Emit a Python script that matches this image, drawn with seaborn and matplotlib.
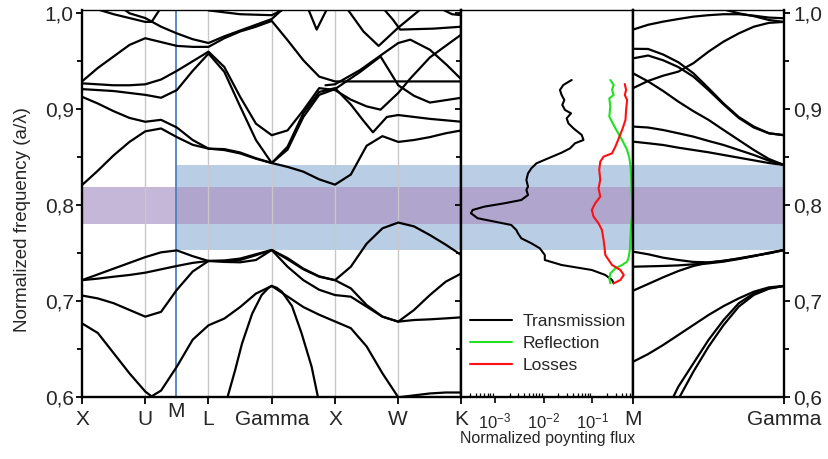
import matplotlib
matplotlib.use("Agg")
import matplotlib.pyplot as plt
import numpy as np
import pandas as pd
import seaborn as sns

# ---------------- data ----------------
PATH_POS = [0, 1, 2, 3, 4, 5, 6]
PATH_LABELS = ["X", "U", "L", "Gamma", "X", "W", "K"]
M_POS = 1.49
K_Q = [0.0, 0.25, 0.5, 0.75, 1.0, 1.25, 1.5, 1.75, 2.0, 2.25, 2.5, 2.75, 3.0,
       3.25, 3.5, 3.75, 4.0, 4.25, 4.5, 4.75, 5.0, 5.25, 5.5, 5.75, 6.0]
K_XG = [0.0, 0.25, 0.5, 0.75, 1.0, 1.25, 1.5, 1.75, 2.0, 2.25, 2.5, 2.75, 3.0]

# lower bands (X ... K)
band_d_k = [0.0, 0.25, 0.5, 0.75, 1.0, 1.1, 1.25, 1.5, 1.75, 2.0, 2.25, 2.5, 2.75, 3.0,
            3.25, 3.5, 3.75, 4.0, 4.25, 4.5, 4.75, 5.0, 5.25, 5.5, 5.75, 6.0]
band_d = [0.677, 0.667, 0.646, 0.625, 0.606, 0.601, 0.607, 0.632, 0.660, 0.675, 0.682, 0.694, 0.708, 0.716,
          0.705, 0.694, 0.686, 0.679, 0.672, 0.653, 0.625, 0.600, 0.602, 0.604, 0.605, 0.605]
band_a = [0.722, 0.728, 0.734, 0.740, 0.746, 0.751, 0.753, 0.747, 0.742, 0.742, 0.743, 0.748, 0.7534,
          0.745, 0.734, 0.726, 0.722, 0.736, 0.760, 0.776, 0.782, 0.778, 0.769, 0.759, 0.748]
band_b = [0.722, 0.7236, 0.7256, 0.7274, 0.7298, 0.7333, 0.7368, 0.740, 0.742, 0.741, 0.7406, 0.743, 0.7534,
          0.7437, 0.7333, 0.7256, 0.722, 0.7135, 0.6961, 0.684, 0.6788, 0.691, 0.7065, 0.7204, 0.7291]
band_c = [0.706, 0.703, 0.698, 0.691, 0.684, 0.689, 0.712, 0.731, 0.742, 0.7425, 0.7445, 0.749, 0.7534,
          0.736, 0.722, 0.712, 0.7065, 0.7048, 0.6944, 0.684, 0.6788, 0.6805, 0.6812, 0.6822, 0.6833]
band_e_k = [2.3, 2.42, 2.53, 2.69, 2.84, 2.95, 3.0, 3.08, 3.16, 3.32, 3.47, 3.63, 3.75]
band_e = [0.600, 0.628, 0.656, 0.687, 0.7065, 0.714, 0.716, 0.714, 0.710, 0.695, 0.667, 0.632, 0.594]

# upper bands
band_f = [0.821, 0.836, 0.852, 0.866, 0.877, 0.880, 0.871, 0.863, 0.859, 0.8585, 0.855, 0.849, 0.844,
          0.840, 0.835, 0.827, 0.8215, 0.832, 0.862, 0.872, 0.866, 0.868, 0.871, 0.875, 0.878]
band_g_k = K_XG + [3.25, 3.5, 3.75, 4.0, 4.25, 4.45, 4.6, 4.82, 5.0, 5.5, 6.0]
band_g = [0.913, 0.906, 0.898, 0.891, 0.887, 0.889, 0.881, 0.868, 0.859, 0.8575, 0.854, 0.8485, 0.844,
          0.861, 0.896, 0.918, 0.922, 0.905, 0.888, 0.876, 0.892, 0.894, 0.890, 0.887]
band_u3_k = K_XG + [3.25, 3.5, 3.75, 4.0, 4.4, 4.72, 5.0, 5.25, 5.5, 6.0]
band_u3 = [0.921, 0.920, 0.919, 0.917, 0.915, 0.912, 0.920, 0.940, 0.958, 0.939, 0.903, 0.868, 0.844,
           0.858, 0.892, 0.915, 0.921, 0.939, 0.955, 0.925, 0.914, 0.907, 0.912]
band_u4_k = K_XG + [3.25, 3.5, 3.75, 4.0, 4.25, 4.5, 4.72, 5.0, 5.19, 5.5, 5.77, 6.0]
band_u4 = [0.927, 0.926, 0.925, 0.925, 0.926, 0.931, 0.940, 0.950, 0.960, 0.944, 0.913, 0.885, 0.873,
           0.878, 0.899, 0.922, 0.920, 0.910, 0.903, 0.8996, 0.917, 0.932, 0.954, 0.967, 0.978]
band_u5_k = K_XG + [3.25, 3.5, 3.75, 4.0, 5.0, 6.0]
band_u5 = [0.929, 0.943, 0.955, 0.967, 0.974, 0.970, 0.966, 0.965, 0.965, 0.974, 0.981, 0.986, 0.992,
           0.972, 0.951, 0.934, 0.929, 0.929, 0.929]
band_hump_k = [3.85, 4.0, 4.4, 4.72, 5.0, 5.19, 5.5, 5.77, 6.0]
band_hump = [0.925, 0.926, 0.941, 0.956, 0.969, 0.9725, 0.962, 0.946, 0.931]
band_u6_k = [0.5, 0.75, 1.0, 1.25, 1.5, 1.75, 2.0, 2.25, 2.5, 2.75, 3.0, 3.2]
band_u6 = [1.012, 1.0, 0.995, 0.986, 0.979, 0.973, 0.969, 0.976, 0.982, 0.988, 0.994, 1.006]
band_u7_k = [0.2, 0.5, 0.75, 1.0, 1.1, 1.25]
band_u7 = [1.005, 0.999, 0.995, 0.991, 0.991, 1.006]
band_u8_k = [2.0, 2.5, 3.0, 3.25]
band_u8 = [1.003, 0.999, 0.998, 1.006]
band_u9_k = [3.58, 3.71, 3.87]
band_u9 = [1.004, 0.983, 1.004]
band_t1_k = [4.2, 4.45, 4.69, 5.0, 5.35]
band_t1 = [1.004, 0.981, 0.966, 0.985, 1.004]
band_t2_k = [4.79, 4.92, 5.03, 5.56, 6.0]
band_t2 = [1.003, 0.993, 0.983, 0.984, 0.986]
band_t3_k = [5.7, 5.85, 6.0]
band_t3 = [1.004, 0.999, 0.998]

# right panel  M -> Gamma
T_GRID = [0.0, 0.1, 0.2, 0.3, 0.4, 0.5, 0.6, 0.7, 0.8, 0.9, 1.0]
r_a = [0.7517, 0.749, 0.7454, 0.743, 0.741, 0.7406, 0.742, 0.7447, 0.7475, 0.750, 0.7534]
r_b = [0.736, 0.7364, 0.7368, 0.7374, 0.7385, 0.7395, 0.7413, 0.744, 0.747, 0.7506, 0.7534]
r_c = [0.711, 0.718, 0.725, 0.7315, 0.7368, 0.7402, 0.7423, 0.7444, 0.7472, 0.750, 0.7534]
r_d = [0.637, 0.645, 0.6545, 0.6649, 0.6753, 0.6857, 0.695, 0.703, 0.710, 0.7145, 0.716]
r_e_t = [0.25, 0.3, 0.4, 0.5, 0.6, 0.7, 0.8, 0.9, 1.0]
r_e = [0.595, 0.611, 0.6354, 0.6597, 0.6805, 0.6979, 0.7083, 0.7135, 0.716]
r_f_t = [0.29, 0.4, 0.5, 0.6, 0.7, 0.8, 0.9, 1.0]
r_f = [0.595, 0.6267, 0.6527, 0.6753, 0.6944, 0.7066, 0.7131, 0.716]
r_g = [0.983, 0.988, 0.9913, 0.994, 0.9965, 0.998, 0.999, 0.999, 0.9975, 0.9955, 0.9948]
r_h_t = [0.6, 0.7, 0.8, 0.9, 1.0]
r_h = [1.004, 1.0, 0.997, 0.993, 0.991]
r_i = [0.922, 0.9295, 0.935, 0.9392, 0.948, 0.960, 0.9705, 0.979, 0.986, 0.990, 0.991]
r_j = [0.963, 0.9628, 0.957, 0.949, 0.9375, 0.922, 0.906, 0.892, 0.882, 0.875, 0.873]
r_k = [0.953, 0.956, 0.951, 0.944, 0.934, 0.920, 0.905, 0.891, 0.881, 0.875, 0.873]
r_l = [0.9375, 0.929, 0.919, 0.908, 0.898, 0.889, 0.8784, 0.868, 0.8576, 0.8482, 0.842]
r_m = [0.882, 0.881, 0.8784, 0.875, 0.8715, 0.867, 0.8628, 0.8576, 0.8524, 0.8465, 0.842]
r_n = [0.8663, 0.8646, 0.8628, 0.860, 0.8576, 0.8552, 0.8524, 0.8496, 0.8468, 0.844, 0.842]

# middle panel: normalized poynting flux (log10) vs frequency
trans_f = [0.9305, 0.9253, 0.9201, 0.9149, 0.9097, 0.9045, 0.8993, 0.8958, 0.8906, 0.8854, 0.8802,
           0.8732, 0.8680, 0.8646, 0.8593, 0.8548, 0.8489, 0.8437, 0.8385, 0.8333, 0.8264, 0.8194,
           0.8160, 0.8107, 0.8055, 0.8021, 0.7986, 0.7951, 0.7917, 0.7865, 0.7830, 0.7795, 0.7743,
           0.7708, 0.7656, 0.7604, 0.7552, 0.7482, 0.7430, 0.7378, 0.7326, 0.7274, 0.7222, 0.7187]
trans_log = [-1.426, -1.598, -1.667, -1.633, -1.577, -1.619, -1.564, -1.439, -1.529, -1.494, -1.391,
             -1.219, -1.184, -1.357, -1.460, -1.633, -1.909, -2.150, -2.254, -2.323, -2.357, -2.323,
             -2.357, -2.323, -2.461, -2.806, -3.220, -3.461, -3.496, -3.358, -3.013, -2.668, -2.564,
             -2.530, -2.461, -2.254, -2.081, -1.978, -1.978, -1.633, -1.012, -0.735, -0.597, -0.563]
refl_f = [0.9305, 0.9253, 0.9201, 0.9149, 0.9114, 0.9027, 0.8923, 0.8802, 0.8680, 0.8576, 0.8489,
          0.8402, 0.8298, 0.8159, 0.8020, 0.7916, 0.7812, 0.7673, 0.7534, 0.7465, 0.7413, 0.7378,
          0.7343, 0.7291, 0.7239, 0.7187]
refl_log = [-0.632, -0.563, -0.597, -0.563, -0.653, -0.632, -0.653, -0.528, -0.390, -0.287, -0.239,
            -0.218, -0.204, -0.197, -0.183, -0.183, -0.204, -0.218, -0.232, -0.252, -0.287, -0.390,
            -0.528, -0.632, -0.653, -0.632]
loss_f = [0.9263, 0.9201, 0.9149, 0.9097, 0.8993, 0.8889, 0.8784, 0.8697, 0.8611, 0.8541, 0.8507,
          0.8454, 0.8368, 0.8264, 0.8177, 0.8090, 0.8021, 0.7951, 0.7882, 0.7812, 0.7743, 0.7638,
          0.7552, 0.7482, 0.7378, 0.7326, 0.7274, 0.7222, 0.7187]
loss_log = [-0.335, -0.308, -0.335, -0.287, -0.308, -0.321, -0.390, -0.459, -0.528, -0.597, -0.770,
            -0.839, -0.860, -0.839, -0.874, -0.839, -0.942, -1.012, -0.977, -0.874, -0.805, -0.770,
            -0.749, -0.735, -0.597, -0.425, -0.356, -0.425, -0.563]

GAP_BLUE = (0.7535, 0.842)
GAP_PURPLE = (0.781, 0.819)
Y_MAJOR = [0.6, 0.7, 0.8, 0.9, 1.0]
Y_MAJOR_LABELS = ["0,6", "0,7", "0,8", "0,9", "1,0"]
Y_MINOR = [0.65, 0.75, 0.85, 0.95]
FLUX_TICKS = [1e-3, 1e-2, 1e-1]
FLUX_LABELS = ["$10^{-3}$", "$10^{-2}$", "$10^{-1}$"]

# ---------------- style ----------------
sns.set_theme(style="white")
plt.rcParams['font.family'] = ['Liberation Sans', 'DejaVu Sans']
plt.rcParams['mathtext.default'] = 'regular'

BLUE = '#b9cde5'
PURPLE_OVER = '#b0a5cd'
PURPLE_LIGHT = '#c5b7d7'
GRID = '#c8c8c8'
SERIES_COLORS = {'Transmission': 'black', 'Reflection': '#22e022', 'Losses': '#ff1010'}

left_bands = [
    ("d", band_d_k, band_d), ("a", K_Q, band_a), ("b", K_Q, band_b), ("c", K_Q, band_c),
    ("e", band_e_k, band_e), ("f", K_Q, band_f), ("g", band_g_k, band_g),
    ("u3", band_u3_k, band_u3), ("u4", band_u4_k, band_u4), ("u5", band_u5_k, band_u5),
    ("hump", band_hump_k, band_hump), ("u6", band_u6_k, band_u6),
    ("u7", band_u7_k, band_u7), ("u8", band_u8_k, band_u8), ("u9", band_u9_k, band_u9),
    ("t1", band_t1_k, band_t1), ("t2", band_t2_k, band_t2), ("t3", band_t3_k, band_t3),
]
right_bands = [
    ("a", T_GRID, r_a), ("b", T_GRID, r_b), ("c", T_GRID, r_c), ("d", T_GRID, r_d),
    ("e", r_e_t, r_e), ("f", r_f_t, r_f), ("g", T_GRID, r_g), ("h", r_h_t, r_h),
    ("i", T_GRID, r_i), ("j", T_GRID, r_j), ("k", T_GRID, r_k), ("l", T_GRID, r_l),
    ("m", T_GRID, r_m), ("n", T_GRID, r_n),
]


def to_frame(bands):
    rows = []
    for name, ks, fs in bands:
        for order, (kk, ff) in enumerate(zip(ks, fs)):
            rows.append((name, order, kk, ff))
    return pd.DataFrame(rows, columns=['band', 'order', 'k', 'f'])


df_left = to_frame(left_bands)
df_right = to_frame(right_bands)
rows = []
for name, fs, lg in [("Transmission", trans_f, trans_log), ("Reflection", refl_f, refl_log),
                     ("Losses", loss_f, loss_log)]:
    for order, (ff, ll) in enumerate(zip(fs, lg)):
        rows.append((name, order, ff, 10.0 ** ll))
df_mid = pd.DataFrame(rows, columns=['series', 'order', 'f', 'flux'])

# ---------------- figure ----------------
W, H = 829, 459
fig = plt.figure(figsize=(W / 100, H / 100), dpi=100)
y_top, y_bot = 9.9, 397.3
x_l, x_k, x_m, x_g = 82.0, 461.5, 633.0, 784.0
bottom = 1 - y_bot / H
height = (y_bot - y_top) / H
ax1 = fig.add_axes([x_l / W, bottom, (x_k - x_l) / W, height])
ax2 = fig.add_axes([x_k / W, bottom, (x_m - x_k) / W, height])
ax3 = fig.add_axes([x_m / W, bottom, (x_g - x_m) / W, height])
YLIM = (0.6, 1.0035)

# ---- left panel ----
mfrac = M_POS / 6.0
ax1.axhspan(*GAP_PURPLE, xmin=0, xmax=mfrac, color=PURPLE_LIGHT, lw=0, zorder=0)
ax1.axhspan(*GAP_BLUE, xmin=mfrac, xmax=1, color=BLUE, lw=0, zorder=0)
ax1.axhspan(*GAP_PURPLE, xmin=mfrac, xmax=1, color=PURPLE_OVER, lw=0, zorder=0.1)
for p in PATH_POS[1:-1]:
    ax1.axvline(p, color=GRID, lw=1.0, zorder=0.5)
ax1.axvline(M_POS, color='#4f81bd', lw=1.3, zorder=1)
sns.lineplot(data=df_left, x='k', y='f', units='band', estimator=None, sort=False,
             color='black', linewidth=1.6, ax=ax1, legend=False, zorder=3)
ax1.set_xlim(0, 6)
ax1.set_ylim(*YLIM)
ax1.set_xticks(PATH_POS)
ax1.set_xticklabels(PATH_LABELS)
ax1.set_yticks(Y_MAJOR)
ax1.set_yticklabels(Y_MAJOR_LABELS)
ax1.set_yticks(Y_MINOR, minor=True)
ax1.tick_params(axis='x', which='major', direction='out', length=5, width=1.3,
                labelsize=15, pad=4, bottom=True, top=False, color='black')
ax1.tick_params(axis='y', which='both', direction='out', left=True, right=False,
                labelsize=15, pad=1.5, width=1.3, color='black')
ax1.tick_params(axis='y', which='major', length=4.5)
ax1.tick_params(axis='y', which='minor', length=3.5)
ax1.set_xlabel('')
ax1.set_ylabel('Normalized frequency (a/λ)', fontsize=13.5)
ax1.yaxis.set_label_coords(-0.135, 0.46)
ax1.text(M_POS, -0.012, 'M', transform=ax1.get_xaxis_transform(), ha='center', va='top',
         fontsize=15)

# ---- middle panel ----
ax2.axhspan(*GAP_BLUE, color=BLUE, lw=0, zorder=0)
ax2.axhspan(*GAP_PURPLE, color=PURPLE_OVER, lw=0, zorder=0.1)
sns.lineplot(data=df_mid, x='flux', y='f', hue='series', units='series', estimator=None,
             sort=False, palette=SERIES_COLORS,
             hue_order=['Transmission', 'Reflection', 'Losses'], linewidth=1.5, ax=ax2, zorder=3)
ax2.set_xscale('log')
ax2.set_xlim(10 ** -3.69, 10 ** -0.166)
ax2.set_ylim(*YLIM)
ax2.set_xticks(FLUX_TICKS)
ax2.set_xticklabels(FLUX_LABELS)
ax2.xaxis.set_minor_locator(matplotlib.ticker.LogLocator(base=10, subs=np.arange(2, 10)))
ax2.xaxis.set_minor_formatter(matplotlib.ticker.NullFormatter())
ax2.tick_params(axis='x', which='major', direction='out', length=4, width=1.2, labelsize=12,
                pad=6.5, bottom=True, color='black')
ax2.tick_params(axis='x', which='minor', direction='in', length=3, width=0.9, bottom=True,
                color='black')
ax2.set_yticks(Y_MAJOR)
ax2.set_yticks(Y_MINOR, minor=True)
ax2.tick_params(axis='y', which='both', direction='out', left=True, right=True,
                labelleft=False, labelright=False, width=1.3, color='black')
ax2.tick_params(axis='y', which='major', length=4.5)
ax2.tick_params(axis='y', which='minor', length=3.5)
ax2.set_ylabel('')
ax2.set_xlabel('Normalized poynting flux', fontsize=11.5)
ax2.xaxis.set_label_coords(0.5, -0.088)
handles, labels = ax2.get_legend_handles_labels()
ax2.legend(handles, labels, loc='center left', bbox_to_anchor=(0.03, 0.139), frameon=False,
           fontsize=12.5, handlelength=2.4, handletextpad=0.6, labelspacing=0.42,
           borderaxespad=0, borderpad=0.2)

# ---- right panel ----
ax3.axhspan(*GAP_BLUE, color=BLUE, lw=0, zorder=0)
ax3.axhspan(*GAP_PURPLE, color=PURPLE_OVER, lw=0, zorder=0.1)
sns.lineplot(data=df_right, x='k', y='f', units='band', estimator=None, sort=False,
             color='black', linewidth=1.6, ax=ax3, legend=False, zorder=3)
ax3.set_xlim(0, 1)
ax3.set_ylim(*YLIM)
ax3.set_xticks([0, 1])
ax3.set_xticklabels(['M', 'Gamma'])
ax3.set_yticks(Y_MAJOR)
ax3.set_yticklabels(Y_MAJOR_LABELS)
ax3.set_yticks(Y_MINOR, minor=True)
ax3.tick_params(axis='x', which='major', direction='out', length=5, width=1.3, labelsize=15,
                pad=4, bottom=True, color='black')
ax3.tick_params(axis='y', which='both', direction='out', left=False, right=True,
                labelleft=False, labelright=True, labelsize=15, pad=2, width=1.3, color='black')
ax3.tick_params(axis='y', which='major', length=4.5)
ax3.tick_params(axis='y', which='minor', length=3.5)
ax3.set_xlabel('')
ax3.set_ylabel('')

for ax in (ax1, ax2, ax3):
    ax.grid(False)
    for name, sp in ax.spines.items():
        sp.set_color('black')
        sp.set_linewidth(1.0 if name == 'top' else 1.7)
        sp.set_zorder(5)

fig.savefig('out.png', dpi=100)
